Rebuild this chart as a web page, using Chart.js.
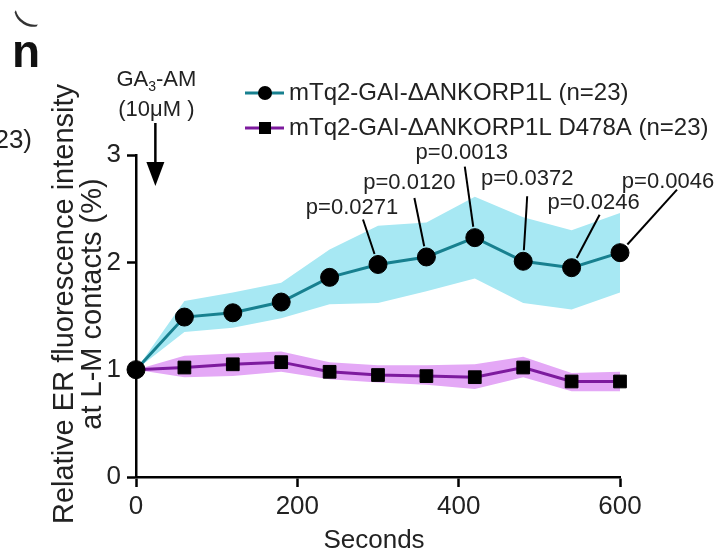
<!DOCTYPE html>
<html>
<head>
<meta charset="utf-8">
<script src="https://cdn.jsdelivr.net/npm/chart.js@4.4.1/dist/chart.umd.min.js"></script>
<style>
  html, body { margin: 0; padding: 0; background: #fff; }
  #wrap { width: 722px; height: 551px; position: relative; }
</style>
</head>
<body>
<div id="wrap"><canvas id="erChart" width="722" height="551"></canvas></div>
<script>
// time points (s)
const seconds = [0, 60, 120, 180, 240, 300, 360, 420, 480, 540, 600];

// mTq2-GAI-ΔANKORP1L : mean and shaded band
const wtMean  = [1.00, 1.49, 1.53, 1.63, 1.86, 1.98, 2.05, 2.23, 2.01, 1.95, 2.09];
const wtUpper = [1.00, 1.64, 1.72, 1.81, 2.12, 2.34, 2.37, 2.61, 2.42, 2.30, 2.46];
const wtLower = [1.00, 1.35, 1.39, 1.48, 1.61, 1.62, 1.73, 1.85, 1.62, 1.56, 1.72];

// mTq2-GAI-ΔANKORP1L D478A : mean and shaded band
const mutMean  = [1.00, 1.02, 1.05, 1.07, 0.98, 0.95, 0.94, 0.93, 1.02, 0.89, 0.89];
const mutUpper = [1.00, 1.13, 1.15, 1.17, 1.07, 1.04, 1.04, 1.05, 1.12, 0.97, 0.98];
const mutLower = [1.00, 0.93, 0.94, 0.98, 0.91, 0.88, 0.86, 0.82, 0.93, 0.80, 0.80];

const seriesNames = ['mTq2-GAI-ΔANKORP1L (n=23)', 'mTq2-GAI-ΔANKORP1L D478A (n=23)'];

// p values above the wt points from 300 s on
const pTimes = [300, 360, 420, 480, 540, 600];
const pLabels = ['p=0.0271', 'p=0.0120', 'p=0.0013', 'p=0.0372', 'p=0.0246', 'p=0.0046'];

const xTicks = [0, 200, 400, 600];
const yTicks = [0, 1, 2, 3];
const treatmentTime = 24;

const FONT = '"Liberation Sans", Arial, Helvetica, sans-serif';
const TEAL = '#17808f';
const TEAL_BAND = '#a7e8f3';
const PURPLE = '#7d1a9e';
const PURPLE_BAND = '#e4a8f6';
const INK = '#222';

// pixel offsets of each p label (text centre, leader start) from its point
const pLabelLayout = [
  { tx: -26, ty: -57, lx: -15, ly: -45 },
  { tx: -17, ty: -74, lx: -12, ly: -59 },
  { tx: -13, ty: -85, lx: -10, ly: -71 },
  { tx: 4,   ty: -82, lx: 4,   ly: -65 },
  { tx: 22,  ty: -65, lx: 28,  ly: -53 },
  { tx: 48,  ty: -71, lx: 57,  ly: -63 },
];

const toXY = (arr) => arr.map((v, i) => ({ x: seconds[i], y: v }));

const extras = {
  id: 'extras',
  afterDraw(chart) {
    const ctx = chart.ctx;
    const xs = chart.scales.x, ys = chart.scales.y;
    const area = chart.chartArea;
    ctx.save();

    // p value labels with leader lines
    ctx.font = '22px ' + FONT;
    ctx.textAlign = 'center';
    ctx.textBaseline = 'middle';
    pTimes.forEach((t, i) => {
      const idx = seconds.indexOf(t);
      const px = xs.getPixelForValue(t);
      const py = ys.getPixelForValue(wtMean[idx]);
      const l = pLabelLayout[i];
      ctx.fillStyle = INK;
      ctx.fillText(pLabels[i], px + l.tx, py + l.ty);
      const sx = px + l.lx, sy = py + l.ly;
      const d = Math.hypot(sx - px, sy - py);
      const ex = px + (sx - px) * 11 / d, ey = py + (sy - py) * 11 / d;
      ctx.strokeStyle = '#000';
      ctx.lineWidth = 2;
      ctx.beginPath();
      ctx.moveTo(sx, sy);
      ctx.lineTo(ex, ey);
      ctx.stroke();
    });

    // treatment arrow
    const ax = xs.getPixelForValue(treatmentTime);
    ctx.fillStyle = INK;
    ctx.textAlign = 'left';
    ctx.textBaseline = 'alphabetic';
    const ga = 'GA', am = '-AM';
    ctx.font = '22px ' + FONT;
    const wGa = ctx.measureText(ga).width, wAm = ctx.measureText(am).width;
    ctx.font = '14px ' + FONT;
    const wSub = ctx.measureText('3').width;
    let gx = ax + 1 - (wGa + wSub + wAm) / 2;
    ctx.font = '22px ' + FONT;
    ctx.fillText(ga, gx, 86);
    ctx.font = '14px ' + FONT;
    ctx.fillText('3', gx + wGa, 91);
    ctx.font = '22px ' + FONT;
    ctx.fillText(am, gx + wGa + wSub, 86);
    ctx.textAlign = 'center';
    ctx.fillText('(10μM )', ax + 1, 116);

    ctx.strokeStyle = '#000';
    ctx.lineWidth = 2.5;
    ctx.beginPath();
    ctx.moveTo(ax, 123);
    ctx.lineTo(ax, 165);
    ctx.stroke();
    ctx.fillStyle = '#000';
    ctx.beginPath();
    ctx.moveTo(ax - 9, 162);
    ctx.lineTo(ax + 9, 162);
    ctx.lineTo(ax, 186);
    ctx.closePath();
    ctx.fill();

    // legend
    const rows = [
      { y: 93, color: TEAL, marker: 'circle' },
      { y: 128, color: PURPLE, marker: 'rect' },
    ];
    rows.forEach((r, i) => {
      ctx.strokeStyle = r.color;
      ctx.lineWidth = 3;
      ctx.beginPath();
      ctx.moveTo(245, r.y);
      ctx.lineTo(284, r.y);
      ctx.stroke();
      ctx.fillStyle = '#000';
      ctx.beginPath();
      if (r.marker === 'circle') {
        ctx.arc(265, r.y, 7, 0, Math.PI * 2);
      } else {
        ctx.rect(259, r.y - 6, 12, 12);
      }
      ctx.fill();
      ctx.fillStyle = INK;
      ctx.font = '24px ' + FONT;
      ctx.textAlign = 'left';
      ctx.textBaseline = 'middle';
      ctx.fillText(seriesNames[i], 289, r.y);
    });

    // axis titles
    ctx.fillStyle = INK;
    ctx.font = '26px ' + FONT;
    ctx.textAlign = 'center';
    ctx.textBaseline = 'middle';
    ctx.fillText('Seconds', (area.left + area.right) / 2 - 4, 541);

    ctx.save();
    ctx.translate(0, 304);
    ctx.rotate(-Math.PI / 2);
    ctx.font = '29px ' + FONT;
    ctx.textBaseline = 'alphabetic';
    ctx.fillText('Relative ER fluorescence intensity', 0, 73);
    ctx.fillText('at L-M contacts (%)', 0, 101);
    ctx.restore();

    // panel letter and neighbouring fragments
    ctx.fillStyle = '#111';
    ctx.font = 'bold 46px ' + FONT;
    ctx.textAlign = 'left';
    ctx.textBaseline = 'alphabetic';
    ctx.fillText('n', 12, 67);
    ctx.font = '26px ' + FONT;
    ctx.fillStyle = INK;
    ctx.textAlign = 'right';
    ctx.fillText('23)', 32, 148);
    ctx.save();
    ctx.translate(24, 21);
    ctx.rotate(-1.0);
    ctx.font = '28px ' + FONT;
    ctx.fillStyle = '#333';
    ctx.textAlign = 'center';
    ctx.textBaseline = 'middle';
    ctx.fillText('(', 0, 0);
    ctx.restore();

    ctx.restore();
  }
};

const bandDs = (data, color, fill) => ({
  data: toXY(data),
  borderWidth: 0,
  pointRadius: 0,
  backgroundColor: color,
  fill: fill,
  order: 10,
  clip: false,
});

new Chart(document.getElementById('erChart'), {
  type: 'line',
  data: {
    datasets: [
      bandDs(wtUpper, TEAL_BAND, false),
      bandDs(wtLower, TEAL_BAND, '-1'),
      bandDs(mutUpper, PURPLE_BAND, false),
      bandDs(mutLower, PURPLE_BAND, '-1'),
      {
        label: seriesNames[1],
        data: toXY(mutMean),
        borderColor: PURPLE,
        borderWidth: 3,
        pointStyle: 'rect',
        pointRadius: 9,
        pointBackgroundColor: '#000',
        pointBorderColor: '#000',
        pointBorderWidth: 1,
        fill: false,
        order: 2,
        clip: false,
      },
      {
        label: seriesNames[0],
        data: toXY(wtMean),
        borderColor: TEAL,
        borderWidth: 3,
        pointStyle: 'circle',
        pointRadius: 9,
        pointBackgroundColor: '#000',
        pointBorderColor: '#000',
        pointBorderWidth: 1,
        fill: false,
        order: 1,
        clip: false,
      },
    ],
  },
  options: {
    responsive: false,
    animation: false,
    devicePixelRatio: 1,
    layout: { padding: { top: 155, right: 102, left: 0, bottom: 0 } },
    plugins: { legend: { display: false }, tooltip: { enabled: false } },
    elements: { line: { tension: 0 } },
    scales: {
      x: {
        type: 'linear',
        min: 0,
        max: 600,
        afterFit: (s) => { s.height = 74; },
        afterBuildTicks: (s) => { s.ticks = xTicks.map(v => ({ value: v })); },
        border: { color: '#000', width: 2.5 },
        grid: { drawOnChartArea: false, drawTicks: true, tickLength: 10, tickWidth: 2.5, tickColor: '#000' },
        ticks: { color: INK, font: { family: FONT, size: 26 }, padding: 4, maxRotation: 0 },
      },
      y: {
        min: 0,
        max: 3,
        afterFit: (s) => { s.width = 136; },
        afterBuildTicks: (s) => { s.ticks = yTicks.map(v => ({ value: v })); },
        border: { color: '#000', width: 2.5 },
        grid: { drawOnChartArea: false, drawTicks: true, tickLength: 9, tickWidth: 2.5, tickColor: '#000' },
        ticks: { color: INK, font: { family: FONT, size: 26 }, padding: 6 },
      },
    },
  },
  plugins: [extras],
});
</script>
</body>
</html>
